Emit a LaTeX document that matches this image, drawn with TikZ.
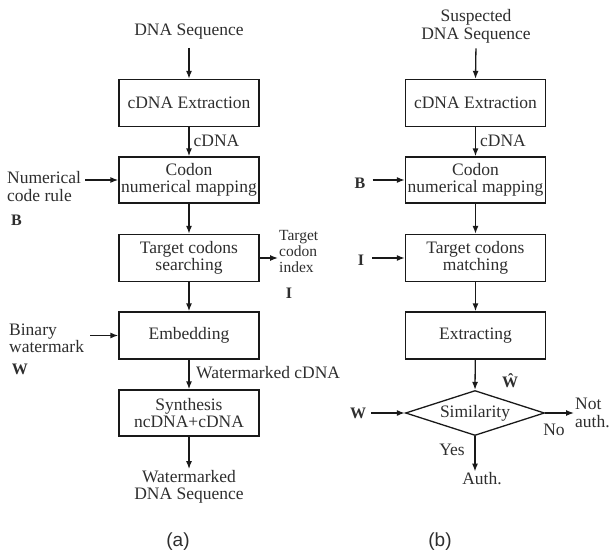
\documentclass[tikz,border=0pt]{standalone}
\usepackage{fontspec}
\setmainfont{Liberation Serif}
\newfontfamily\capfont{Liberation Sans}
\usetikzlibrary{arrows.meta,shapes.geometric}

\begin{document}
\begin{tikzpicture}[x=1pt,y=-1pt,
  every node/.style={font=\fontsize{17.5}{17.5}\selectfont, text=black!82},
  stepbox/.style={draw=black!90, line width=1.3pt, minimum width=140pt,
                  minimum height=47pt, align=center, inner sep=0pt},
  txt/.style={align=center, inner sep=1pt},
  sym/.style={font=\fontsize{16}{16}\selectfont\bfseries, inner sep=1pt},
  arr/.style={draw=black!90, line width=1.3pt, -{Latex[length=8pt,width=6pt]}},
  caption/.style={font=\capfont\fontsize{19}{19}\selectfont},
]
\useasboundingbox (0,0) rectangle (611,557);

% ---------- (a) embedding ----------
\node[txt] (dna1) at (189,32) {DNA Sequence};
\node[stepbox] (ext1) at (189,103) {cDNA Extraction};
\node[stepbox, minimum height=46pt] (map1) at (189,180) {Codon\\numerical mapping};
\node[stepbox] (srch) at (189,258) {Target codons\\searching};
\node[stepbox] (emb) at (189,335.5) {Embedding};
\node[stepbox, minimum height=46pt] (syn) at (189,413) {Synthesis\\ncDNA+cDNA};
\node[txt] (wdna) at (189,487) {Watermarked\\DNA Sequence};

\node[txt] (lcdna1) at (216.5,141) {cDNA};
\node[txt, align=left, anchor=west] (ncr) at (6,186.5) {Numerical\\code rule};
\node[sym, anchor=west] (b1) at (10,220) {B};
\node[txt, align=left, anchor=west, font=\fontsize{15.5}{16}\selectfont]
     (tci) at (278,251) {Target\\codon\\index};
\node[sym] (i1) at (289,293) {I};
\node[txt, align=left, anchor=west] (bw) at (8,338.5) {Binary\\watermark};
\node[sym] (w1) at (20,369) {W};
\node[txt, anchor=west] (lwc) at (195,373) {Watermarked cDNA};

\draw[arr, shorten <=7pt] (dna1.south) -- (ext1.north);
\draw[arr] (ext1) -- (map1);
\draw[arr] (map1) -- (srch);
\draw[arr] (srch) -- (emb);
\draw[arr] (emb) -- (syn);
\draw[arr] (syn) -- (wdna.north);
\draw[arr, shorten <=3pt] (ncr.east |- map1.west) -- (map1.west);
\draw[arr] (srch.east) -- (tci.west |- srch.east);
\draw[arr, shorten <=5pt] (bw.east |- emb.west) -- (emb.west);

% ---------- (b) extraction ----------
\node[txt] (sdna) at (476,26.5) {Suspected\\DNA Sequence};
\node[stepbox] (ext2) at (475.5,103) {cDNA Extraction};
\node[stepbox, minimum height=46pt] (map2) at (475.5,180) {Codon\\numerical mapping};
\node[stepbox] (mtch) at (475.5,258) {Target codons\\matching};
\node[stepbox] (extr) at (475.5,335.5) {Extracting};
\node[draw=black!90, line width=1.3pt, diamond, aspect=3.1, minimum width=139pt,
      minimum height=45pt, inner sep=0pt] (sim) at (475,413) {Similarity};

\node[txt] (lcdna2) at (503,141) {cDNA};
\node[sym] (b2) at (360,183) {B};
\node[sym] (i2) at (361,260) {I};
\node[sym] (wh) at (510,381) {Ŵ};
\node[sym] (w2) at (358,413) {W};
\node[txt, align=left, anchor=west] (nauth) at (574,413) {Not\\auth.};
\node[txt] (no) at (554,430) {No};
\node[txt] (yes) at (452,450) {Yes};
\node[txt] (auth) at (482,479) {Auth.};

\draw[arr, shorten <=4pt] (sdna.south) -- (ext2.north);
\draw[arr] (ext2) -- (map2);
\draw[arr] (map2) -- (mtch);
\draw[arr] (mtch) -- (extr);
\draw[arr] (extr) -- (sim.north);
\draw[arr, shorten <=6pt] (b2.east |- map2.west) -- (map2.west);
\draw[arr, shorten <=7pt] (i2.east |- mtch.west) -- (mtch.west);
\draw[arr, shorten <=4pt] (w2.east) -- (sim.west);
\draw[arr] (sim.east) -- (nauth.west |- sim.east);
\draw[arr] (sim.south) -- (sim.south |- auth.north);

% ---------- captions ----------
\node[caption] (capa) at (178,542) {(a)};
\node[caption] (capb) at (440,542) {(b)};
\end{tikzpicture}
\end{document}
